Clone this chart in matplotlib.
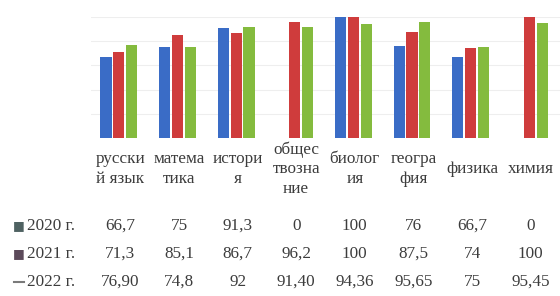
import matplotlib
matplotlib.use("Agg")
import matplotlib.pyplot as plt
from matplotlib.transforms import blended_transform_factory

plt.rcParams['font.family'] = ['Liberation Serif', 'DejaVu Serif']

categories = ["русски\nй язык", "матема\nтика", "истори\nя", "общес\nтвозна\nние",
              "биолог\nия", "геогра\nфия", "физика", "химия"]
series_names = ["2020 г.", "2021 г.", "2022 г."]
labels_2020 = ["66,7", "75", "91,3", "0", "100", "76", "66,7", "0"]
labels_2021 = ["71,3", "85,1", "86,7", "96,2", "100", "87,5", "74", "100"]
labels_2022 = ["76,90", "74,8", "92", "91,40", "94,36", "95,65", "75", "95,45"]
table_labels = [labels_2020, labels_2021, labels_2022]
values = [[float(s.replace(',', '.')) for s in row] for row in table_labels]

colors = ["#3a6cc6", "#cf3c3c", "#84bb3e"]
key_colors = ["#4f6262", "#5c4a5a", "#7a7a7a"]

W, H = 560, 296
fig = plt.figure(figsize=(W / 100, H / 100), dpi=100)
left, right = 91 / W, 560 / W
base_y, top_y = 138, 17
ax = fig.add_axes([left, (H - base_y) / H, right - left, (base_y - top_y) / H])
ax.set_xlim(-0.5, len(categories) - 0.5)
ax.set_ylim(0, 100)
for s in ax.spines.values():
    s.set_visible(False)
ax.set_xticks([])
ax.set_yticks([20, 40, 60, 80, 100])
ax.set_yticklabels([])
ax.tick_params(axis='y', length=0)
ax.grid(axis='y', color='#eeeeee', lw=0.8, zorder=0)
ax.set_axisbelow(True)

width = 0.19
offsets = [-0.22, 0.0, 0.22]
xs = list(range(len(categories)))
for i, vals in enumerate(values):
    ax.bar([x + offsets[i] - 0.025 for x in xs], vals, width=width, color=colors[i],
           zorder=2, linewidth=0)

text_color = "#3c3c3c"
fs = 12.3
trans = blended_transform_factory(ax.transData, fig.transFigure)
for x, c in zip(xs, categories):
    ax.text(x, (H - 169) / H, c, transform=trans, ha='center', va='center',
            fontsize=fs, color=text_color, linespacing=1.3, clip_on=False)

row_y = [226, 254, 282]
for r, (name, row) in enumerate(zip(series_names, table_labels)):
    yf = (H - row_y[r]) / H
    if r < 2:
        fig.text(19 / W, yf, "■", ha='center', va='center', fontsize=9,
                 color=key_colors[r], family='DejaVu Sans')
    else:
        fig.lines.append(plt.Line2D([14 / W, 24 / W], [yf, yf], transform=fig.transFigure,
                                    color=key_colors[r], lw=1.5))
    fig.text(27 / W, yf, name, ha='left', va='center', fontsize=fs, color=text_color)
    for x, s in zip(xs, row):
        ax.text(x, yf, s, transform=trans, ha='center', va='center',
                fontsize=fs, color=text_color, clip_on=False)

fig.savefig("out.png", dpi=100)
